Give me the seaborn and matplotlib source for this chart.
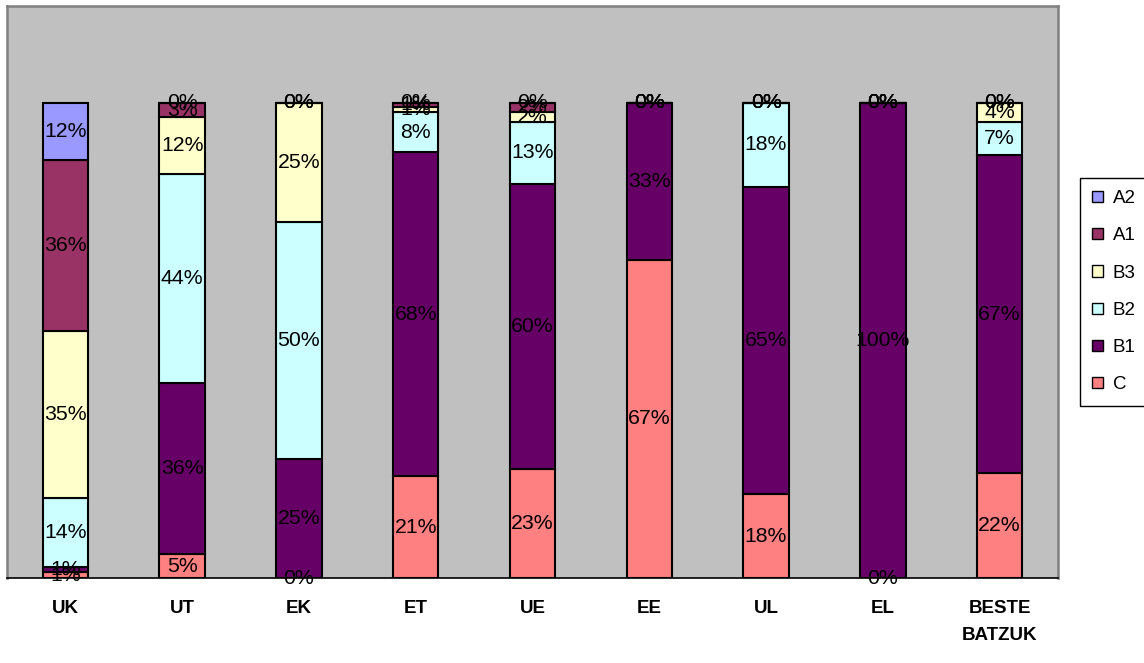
import matplotlib
matplotlib.use("Agg")
import matplotlib.pyplot as plt
import seaborn as sns
from matplotlib.patches import Patch
from matplotlib.ticker import FixedLocator

# Level distribution per group (percent of each column, stacked bottom to top)
categories = ["UK", "UT", "EK", "ET", "UE", "EE", "UL", "EL", "BESTE\nBATZUK"]
c_vals = [1.2, 5, 0, 21.4, 23, 67, 17.6, 0, 22]
b1_vals = [1.2, 36, 25, 68.2, 60, 33, 64.7, 100, 67]
b2_vals = [14.4, 44, 50, 8.4, 13, 0, 17.7, 0, 7]
b3_vals = [35.2, 12, 25, 1.2, 2, 0, 0, 0, 4]
a1_vals = [36.0, 3, 0, 0.8, 2, 0, 0, 0, 0]
a2_vals = [12.0, 0, 0, 0, 0, 0, 0, 0, 0]

series_names = ["C", "B1", "B2", "B3", "A1", "A2"]
series_vals = [c_vals, b1_vals, b2_vals, b3_vals, a1_vals, a2_vals]
series_colors = ["#FF8080", "#660066", "#CCFFFF", "#FFFFCC", "#993366", "#9999FF"]

sns.set_theme(style="white")
plt.rcParams["font.family"] = ["Liberation Sans", "DejaVu Sans"]
plt.rcParams["text.color"] = "black"
plt.rcParams["xtick.color"] = "black"

fig = plt.figure(figsize=(11.44, 6.63), dpi=100)
ax = fig.add_axes([7 / 1144, 1 - 578 / 663, (1058 - 7) / 1144, (578 - 6) / 663])
ax.set_facecolor("#C0C0C0")

bottoms = [0.0] * len(categories)
for name, vals, col in zip(series_names, series_vals, series_colors):
    sns.barplot(x=categories, y=vals, bottom=bottoms, color=col, saturation=1,
                edgecolor="black", linewidth=1.5, width=0.39, ax=ax, zorder=2)
    for i, v in enumerate(vals):
        ax.text(i, bottoms[i] + v / 2, f"{v:.0f}%", ha="center", va="center",
                fontsize=15.3, color="black", zorder=5, clip_on=False)
    bottoms = [b + v for b, v in zip(bottoms, vals)]

ax.set_xlim(-0.5, len(categories) - 0.5)
ax.set_ylim(0, 120.4)
ax.set_yticks([])
ax.set_xlabel("")
ax.set_ylabel("")

# category labels centred, tick marks on the category boundaries
ax.tick_params(axis="x", which="major", length=0, pad=16, labelcolor="black")
ax.xaxis.set_minor_locator(FixedLocator([i - 0.5 for i in range(len(categories) + 1)]))
ax.tick_params(axis="x", which="minor", length=6, width=1, color="black", direction="out")
for lab in ax.get_xticklabels():
    lab.set_fontweight("bold")
    lab.set_fontsize(13.5)
    lab.set_linespacing(1.75)
    lab.set_color("black")

for side in ["left", "top", "right"]:
    ax.spines[side].set_color("#808080")
    ax.spines[side].set_linewidth(1.8)
ax.spines["bottom"].set_color("black")
ax.spines["bottom"].set_linewidth(1.2)

handles = [Patch(facecolor=c, edgecolor="black", linewidth=1, label=n)
           for n, c in zip(series_names[::-1], series_colors[::-1])]
leg = ax.legend(handles=handles, loc="upper left",
                bbox_to_anchor=(1080 / 1144, 1 - 178 / 663),
                bbox_transform=fig.transFigure, frameon=True, fancybox=False,
                edgecolor="black", framealpha=1, fontsize=13.5, borderpad=0.65,
                handlelength=0.55, handleheight=0.55, handletextpad=0.55,
                labelspacing=1.08, borderaxespad=0)
leg.get_frame().set_linewidth(1)
for t in leg.get_texts():
    t.set_color("black")

fig.savefig("out.png", dpi=100, facecolor="white")
